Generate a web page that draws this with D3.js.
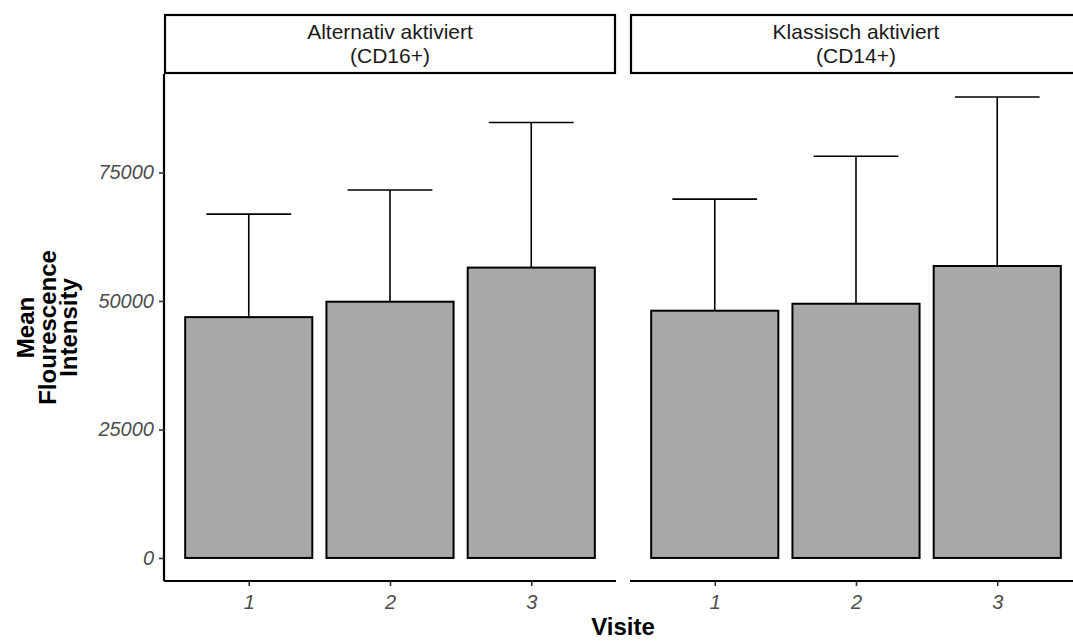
<!DOCTYPE html>
<html>
<head>
<meta charset="utf-8">
<script src="https://cdn.jsdelivr.net/npm/d3@7"></script>
<style>
  html, body { margin: 0; padding: 0; background: #ffffff; }
  svg { display: block; font-family: "Liberation Sans", Arial, sans-serif; }
</style>
</head>
<body>
<svg id="chart" width="1073" height="641"></svg>
<script>
// Facet labels (two lines each)
const facetLabels = [
  ["Alternativ aktiviert", "(CD16+)"],
  ["Klassisch aktiviert", "(CD14+)"]
];
const visits = ["1", "2", "3"];

// Mean fluorescence intensity per visit and its standard deviation
const meanAlternativ = [46850, 49850, 56490];
const sdAlternativ   = [20040, 21730, 28220];
const meanKlassisch  = [48100, 49460, 56800];
const sdKlassisch    = [21720, 28700, 32870];

const yTicks = [0, 25000, 50000, 75000];

const panels = [
  { label: facetLabels[0], means: meanAlternativ, sds: sdAlternativ, x0: 164, x1: 616 },
  { label: facetLabels[1], means: meanKlassisch,  sds: sdKlassisch,  x0: 630, x1: 1082 }
];

const svg = d3.select("#chart");
const panelTop = 74, panelBottom = 581;
const stripTop = 15;

// Shared y scale with 5% expansion on both sides
const maxUpper = d3.max(panels.flatMap(p => p.means.map((m, i) => m + p.sds[i])));
const pad = 0.05 * maxUpper;
const y = d3.scaleLinear().domain([-pad, maxUpper + pad]).range([panelBottom, panelTop]);

const tickFont = 20;
const stripFont = 21;

panels.forEach((p, pi) => {
  // discrete x scale with 0.6 expansion per side
  const step = (p.x1 - p.x0) / 3.2;
  const x = d3.scalePoint().domain(visits).range([p.x0 + 0.6 * step, p.x1 - 0.6 * step]);
  const barW = 0.9 * step, capW = 0.6 * step;

  const g = svg.append("g");

  // strip
  g.append("rect")
    .attr("x", p.x0 + 1).attr("y", stripTop)
    .attr("width", p.x1 - p.x0 - 2).attr("height", panelTop - 1 - stripTop)
    .attr("fill", "#ffffff").attr("stroke", "#000000").attr("stroke-width", 2.2);
  const st = g.append("text")
    .attr("x", (p.x0 + p.x1) / 2).attr("text-anchor", "middle")
    .attr("font-size", stripFont).attr("fill", "#1A1A1A");
  st.append("tspan").attr("x", (p.x0 + p.x1) / 2).attr("y", 39).text(p.label[0]);
  st.append("tspan").attr("x", (p.x0 + p.x1) / 2).attr("y", 63).text(p.label[1]);

  // error bars (upper half: mean to mean + sd)
  p.means.forEach((m, i) => {
    const cx = x(visits[i]);
    g.append("line")
      .attr("x1", cx).attr("x2", cx)
      .attr("y1", y(m)).attr("y2", y(m + p.sds[i]))
      .attr("stroke", "#000").attr("stroke-width", 1.6);
    g.append("line")
      .attr("x1", cx - capW / 2).attr("x2", cx + capW / 2)
      .attr("y1", y(m + p.sds[i])).attr("y2", y(m + p.sds[i]))
      .attr("stroke", "#000").attr("stroke-width", 1.6);
  });

  // bars
  g.selectAll("rect.bar").data(p.means).enter().append("rect")
    .attr("class", "bar")
    .attr("x", (d, i) => x(visits[i]) - barW / 2)
    .attr("width", barW)
    .attr("y", d => y(d))
    .attr("height", d => y(0) - y(d))
    .attr("fill", "#A9A9A9").attr("stroke", "#000").attr("stroke-width", 2);

  // x axis
  const xAxis = d3.axisBottom(x).tickSizeInner(5).tickSizeOuter(0).tickPadding(6);
  const xa = g.append("g").attr("transform", `translate(0,${panelBottom})`).call(xAxis);
  xa.select(".domain").attr("stroke", "#000").attr("stroke-width", 2.2)
    .attr("d", `M${p.x0},0H${p.x1}`);
  xa.selectAll(".tick line").attr("stroke", "#333").attr("stroke-width", 1.6);
  xa.selectAll(".tick text")
    .attr("font-size", tickFont).attr("font-style", "italic")
    .attr("fill", "#4D4D4D").attr("font-family", "Liberation Sans, Arial, sans-serif")
    .attr("dy", "0.85em");

  // y axis on first panel only
  if (pi === 0) {
    const yAxis = d3.axisLeft(y).tickValues(yTicks).tickFormat(d3.format("d"))
      .tickSizeInner(5).tickSizeOuter(0).tickPadding(5);
    const ya = g.append("g").attr("transform", `translate(${p.x0},0)`).call(yAxis);
    ya.select(".domain").attr("stroke", "#000").attr("stroke-width", 2.2)
      .attr("d", `M0,${panelTop}V${panelBottom}`);
    ya.selectAll(".tick line").attr("stroke", "#333").attr("stroke-width", 1.6);
    ya.selectAll(".tick text")
      .attr("font-size", tickFont).attr("font-style", "italic")
      .attr("fill", "#4D4D4D").attr("font-family", "Liberation Sans, Arial, sans-serif");
  }
});

// axis titles
svg.append("text")
  .attr("x", (panels[0].x0 + panels[1].x1) / 2).attr("y", 635)
  .attr("text-anchor", "middle").attr("font-size", 24).attr("font-weight", "bold")
  .attr("fill", "#000").text("Visite");

const yTitle = svg.append("text")
  .attr("transform", `translate(0,${(panelTop + panelBottom) / 2}) rotate(-90)`)
  .attr("text-anchor", "middle").attr("font-size", 24).attr("font-weight", "bold")
  .attr("fill", "#000");
["Mean", "Flourescence", "Intensity"].forEach((t, i) => {
  yTitle.append("tspan").attr("x", 0).attr("y", 34 + i * 21.5).text(t);
});
</script>
</body>
</html>
